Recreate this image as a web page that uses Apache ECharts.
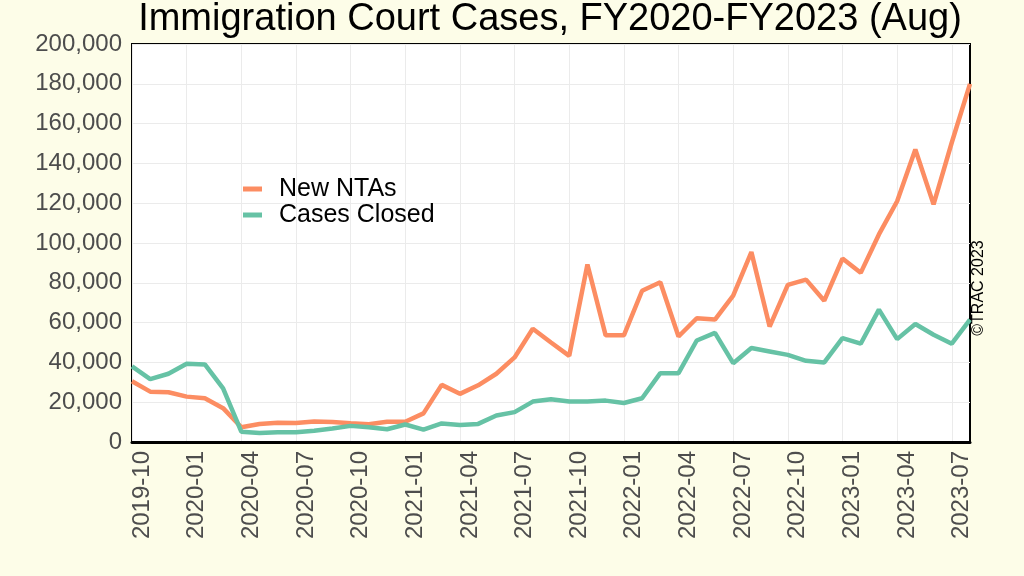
<!DOCTYPE html>
<html>
<head>
<meta charset="utf-8">
<script src="https://cdn.jsdelivr.net/npm/echarts@6/dist/echarts.min.js"></script>
<style>
html,body{margin:0;padding:0;background:#fdfde8;}
#chart{width:1024px;height:576px;}
</style>
</head>
<body>
<div id="chart"></div>
<script>
var months = ["2019-10","2019-11","2019-12","2020-01","2020-02","2020-03","2020-04","2020-05","2020-06","2020-07","2020-08","2020-09",
"2020-10","2020-11","2020-12","2021-01","2021-02","2021-03","2021-04","2021-05","2021-06","2021-07","2021-08","2021-09",
"2021-10","2021-11","2021-12","2022-01","2022-02","2022-03","2022-04","2022-05","2022-06","2022-07","2022-08","2022-09",
"2022-10","2022-11","2022-12","2023-01","2023-02","2023-03","2023-04","2023-05","2023-06","2023-07","2023-08"];
var newNTAs = [30500,25300,25000,22800,22000,17000,7400,9000,9700,9600,10300,10000,
9400,8900,10200,10200,14400,28700,24200,28500,34300,42500,56900,50000,
43300,89200,53600,53600,76000,80300,53000,62200,61500,73600,95400,58000,
79000,81600,71000,92200,85000,104300,121000,147000,119400,150500,180000];
var casesClosed = [38000,31600,34300,39300,39000,27000,5200,4500,4900,4900,5700,6800,
8100,7400,6400,8800,6200,9300,8600,9100,13300,15000,20300,21500,
20300,20300,20800,19600,22000,34600,34600,51000,54800,39600,47200,45500,
43800,40800,40000,52200,49400,66500,51700,59300,53900,49400,61500];
var seriesNames = ["New NTAs","Cases Closed"];
var titleText = "Immigration Court Cases, FY2020-FY2023 (Aug)";
var creditText = "\u00A9TRAC 2023";

var FONT = "'Liberation Sans', Arial, Helvetica, sans-serif";
var chart = echarts.init(document.getElementById('chart'), null, {renderer:'canvas'});
chart.setOption({
  backgroundColor: '#fdfde8',
  animation: false,
  textStyle: {fontFamily: FONT},
  grid: {left:132, right:54, top:44, bottom:134, show:true, backgroundColor:'#ffffff',
         borderColor:'#000000', borderWidth:2, containLabel:false, outerBoundsMode:'none'},
  legend: {
    data: seriesNames,
    orient: 'vertical',
    left: 243, top: 176, padding: 0,
    icon: 'rect', itemWidth: 19, itemHeight: 5, itemGap: 0,
    textStyle: {fontFamily: FONT, fontSize: 25, color:'#000', lineHeight: 26, padding:[0,0,0,12]}
  },
  xAxis: {
    type: 'category', data: months, boundaryGap: false,
    axisLine: {show:true, lineStyle:{color:'#000', width:3}},
    axisTick: {show:false},
    axisLabel: {interval:2, rotate:90, fontSize:24, color:'#4d4d4d', margin:9, verticalAlign:'top', lineHeight:20, fontFamily: FONT},
    splitLine: {show:true, interval:2, lineStyle:{color:'#ebebeb', width:1}}
  },
  yAxis: {
    type: 'value', min:0, max:200000, interval:20000,
    axisLine: {show:false}, axisTick:{show:false},
    axisLabel: {fontSize:24, color:'#4d4d4d', margin:10, fontFamily: FONT,
      formatter: function(v){ return v.toString().replace(/\B(?=(\d{3})+(?!\d))/g, ','); }},
    splitLine: {show:true, lineStyle:{color:'#ebebeb', width:1}}
  },
  series: [
    {name: seriesNames[0], type:'line', data:newNTAs, showSymbol:false, symbol:'none',
     lineStyle:{color:'#fc8d62', width:4.5}, itemStyle:{color:'#fc8d62'}},
    {name: seriesNames[1], type:'line', data:casesClosed, showSymbol:false, symbol:'none',
     lineStyle:{color:'#66c2a5', width:4.5}, itemStyle:{color:'#66c2a5'}}
  ],
  graphic: [
    {type:'text', x:550, y:20, style:{text:titleText, fontSize:38, fontFamily:FONT, fill:'#000',
      textAlign:'center', textVerticalAlign:'middle'}},
    {type:'text', x:979, y:288, rotation:Math.PI/2, style:{text:creditText, fontSize:16, fontFamily:FONT, fill:'#000',
      textAlign:'center', textVerticalAlign:'middle'}}
  ]
});
</script>
</body>
</html>
